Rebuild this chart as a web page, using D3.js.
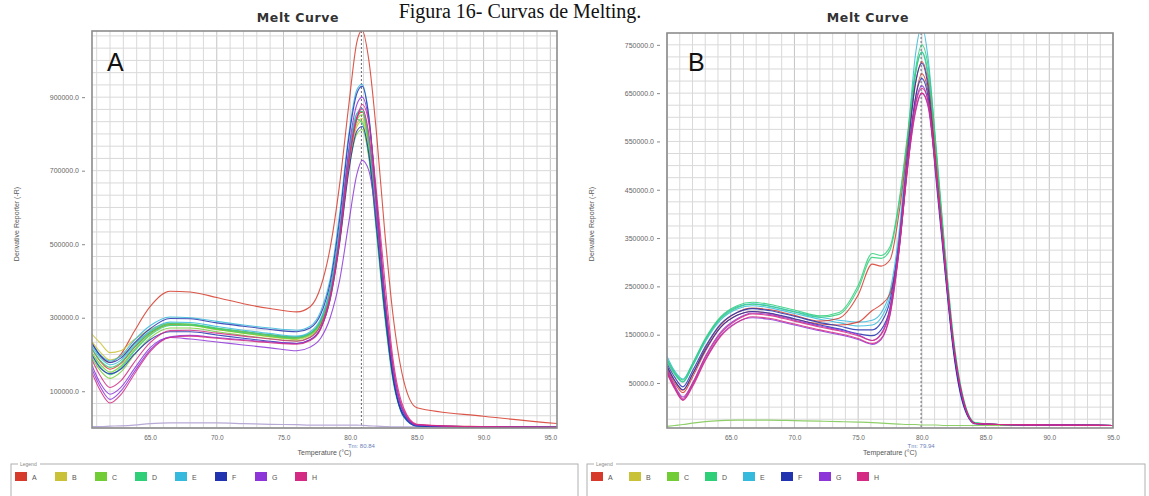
<!DOCTYPE html>
<html>
<head>
<meta charset="utf-8">
<script src="https://cdn.jsdelivr.net/npm/d3@7"></script>
<style>
	body { margin: 0; background: #fff; }
	svg { display: block; font-family: "Liberation Sans", Arial, sans-serif; }
</style>
</head>
<body>
<svg id="chart" width="1149" height="496"></svg>
<script>
// DATA (derivative reporter values are in thousands)

var wellNames = ['A','B','C','D','E','F','G','H'];
var xTickValues = [65, 70, 75, 80, 85, 90, 95];
var yTicksA = [100, 300, 500, 700, 900];
var yTicksB = [50, 150, 250, 350, 450, 550, 650, 750];
var tmA = 80.84;
var tmB = 79.94;

// panel A
var tempA = [60.65,61.3,62.0,62.8,63.8,65.0,66.5,68.0,70.0,72.0,74.0,76.0,77.0,77.8,78.5,79.2,79.9,80.5,80.9,81.4,82.0,82.6,83.2,84.0,85.0,90.0,95.5];
var ntcA = [4,4,5,6,8,12,14,14,14,12,10,9,8,8,8,8,8,8,7,6,5,4,3,3,3,3,3];
var a_A1 = [232,195,178,200,262,330,372,370,355,338,325,316,330,385,490,660,880,1050,1082,1000,790,530,310,130,55,32,12];
var a_A2 = [215,180,160,175,218,258,282,281,270,262,253,246,257,292,372,525,735,845,860,780,560,325,145,38,8,4,2];
var a_B1 = [255,230,205,210,240,268,285,282,271,262,252,245,255,288,365,515,720,828,842,765,545,318,140,36,7,3,2];
var a_B2 = [235,205,185,195,228,262,283,280,268,258,248,241,252,285,362,512,715,820,835,760,540,315,138,35,7,3,2];
var a_C1 = [205,172,152,168,212,255,280,279,268,258,249,243,254,288,368,520,728,838,852,770,552,322,143,37,7,3,2];
var a_C2 = [190,155,135,152,198,245,272,272,262,252,243,237,248,282,358,505,705,800,812,735,530,310,138,36,7,3,2];
var a_D1 = [200,165,145,163,208,252,279,280,270,260,251,245,256,290,372,530,740,840,830,740,520,300,130,34,7,3,2];
var a_D2 = [215,183,165,178,220,260,284,283,272,263,254,248,258,293,375,532,745,855,862,778,556,324,144,37,7,3,2];
var a_E1 = [228,198,182,196,238,278,302,300,290,280,272,266,277,318,405,580,800,920,935,850,610,350,150,30,5,3,2];
var a_E2 = [222,190,172,184,225,264,288,287,276,266,257,250,262,298,380,540,750,855,870,790,570,335,150,40,8,3,2];
var a_F1 = [230,196,178,190,230,270,298,297,286,277,268,262,272,310,395,565,790,910,930,845,600,340,145,32,5,3,2];
var a_F2 = [198,162,148,160,200,240,262,262,253,244,236,230,240,272,350,500,700,808,820,745,535,312,138,36,7,3,2];
var a_G1 = [170,120,92,110,160,218,246,242,234,226,218,210,220,245,300,400,560,690,728,700,560,350,170,45,8,3,2];
var a_G2 = [160,110,78,100,152,212,248,252,246,240,234,230,240,272,355,520,760,880,900,835,610,360,160,42,8,3,2];
var a_H1 = [185,140,110,128,178,232,265,266,258,250,242,236,246,280,360,515,730,845,868,800,590,360,170,48,9,3,2];
var a_H2 = [150,100,68,90,145,208,246,250,244,238,232,228,238,270,350,505,720,840,880,830,630,400,190,55,10,3,2];

// panel B
var tempB = [60.0,60.6,61.25,62.0,63.0,64.2,65.5,66.7,68.0,70.0,72.0,73.5,75.0,76.1,76.8,77.5,78.2,78.9,79.5,80.0,80.5,81.1,81.8,82.5,83.3,84.2,86.0,90.0,95.0];
var ntcB = [-40,-38,-36,-33,-30,-28,-27,-27,-27,-28,-29,-30,-31,-32,-33,-34,-35,-36,-36,-37,-37,-37,-38,-38,-38,-38,-38,-38,-38];
var b_E1 = [105,75,58,90,140,185,208,214,210,198,186,180,176,180,195,240,360,560,730,790,720,540,320,130,10,-33,-36,-37,-38];
var b_E2 = [98,70,52,85,135,180,203,210,206,194,182,175,168,170,185,230,345,530,690,735,680,510,300,120,5,-34,-36,-37,-38];
var b_D1 = [100,72,56,90,142,187,210,217,213,201,189,196,252,318,314,332,425,570,700,750,705,545,330,140,15,-32,-36,-37,-38];
var b_D2 = [95,68,52,85,138,183,206,213,209,197,186,192,245,310,308,325,418,560,690,735,690,530,320,135,12,-33,-36,-37,-38];
var b_A1 = [85,55,35,68,122,170,196,205,202,190,178,184,232,296,292,305,400,545,670,715,670,510,305,125,8,-34,-36,-37,-38];
var b_A2 = [80,50,30,62,115,165,190,198,194,182,172,170,176,200,212,235,330,500,640,690,650,495,300,120,5,-34,-36,-37,-38];
var b_F1 = [90,62,42,75,125,172,196,204,200,188,175,168,160,160,175,220,340,530,670,712,660,490,290,115,3,-34,-36,-37,-38];
var b_F2 = [84,55,36,68,118,165,190,198,195,183,170,162,152,148,160,205,325,510,640,680,640,475,285,110,0,-35,-36,-37,-38];
var b_G1 = [77,45,21,50,105,155,183,195,192,180,168,160,150,138,152,205,340,520,630,665,630,490,300,125,8,-34,-36,-37,-38];
var b_G2 = [72,40,15,45,98,148,176,185,182,170,158,150,140,130,140,190,320,500,610,650,620,485,300,125,8,-34,-36,-37,-38];
var b_H1 = [75,42,18,48,102,152,181,193,190,178,166,158,148,138,150,200,330,510,625,660,635,495,305,128,10,-34,-36,-37,-38];
var b_H2 = [70,38,14,42,96,146,175,187,184,172,160,152,142,132,142,192,322,502,615,650,625,490,302,126,9,-34,-36,-37,-38];

(function() {

	var svg = d3.select('#chart');

	var wellColor = d3.scaleOrdinal()
		.domain(wellNames)
		.range(['#d63a2a','#c9c238','#72cc36','#2fcf79','#35b9dc','#2233b0','#8e35d9','#d42a83']);

	var panels = [
		{
			id: 'A', left: 92, right: 557, top: 31, bottom: 428,
			xDomain: [60.65, 95.5], yDomain: [0, 1080], yTicks: yTicksA, yGrid: 200 / 6,
			tm: tmA, temps: tempA, ntc: ntcA, ntcColor: '#b7a9d6',
			series: [['A',a_A1],['A',a_A2],['B',a_B1],['B',a_B2],['C',a_C1],['C',a_C2],['D',a_D1],['D',a_D2],
				['E',a_E1],['E',a_E2],['F',a_F1],['F',a_F2],['G',a_G1],['G',a_G2],['H',a_H1],['H',a_H2]],
			titleX: 298, letterX: 107,
			legend: { x: 11, w: 567, step: 40 }
		},
		{
			id: 'B', left: 667, right: 1113, top: 33, bottom: 428,
			xDomain: [60.0, 95.0], yDomain: [-43.2, 774.5], yTicks: yTicksB, yGrid: 25,
			tm: tmB, temps: tempB, ntc: ntcB, ntcColor: '#8fcf6a',
			series: [['E',b_E1],['E',b_E2],['D',b_D1],['D',b_D2],['A',b_A1],['A',b_A2],['F',b_F1],['F',b_F2],
				['G',b_G1],['G',b_G2],['H',b_H1],['H',b_H2]],
			titleX: 868, letterX: 688,
			legend: { x: 587, w: 558, step: 38 }
		}
	];

	// page caption at the very top
	svg.append('text')
		.attr('x', 520).attr('y', 18)
		.attr('text-anchor', 'middle')
		.style('font-family', '"Liberation Serif", "Times New Roman", serif')
		.style('font-size', '20px')
		.attr('fill', '#111')
		.text('Figura 16- Curvas de Melting.');

	function drawPanel(p) {
		var x = d3.scaleLinear().domain(p.xDomain).range([p.left, p.right]);
		var y = d3.scaleLinear().domain(p.yDomain).range([p.bottom, p.top]);
		var g = svg.append('g').attr('class', 'panel panel--' + p.id);

		svg.append('clipPath').attr('id', 'clip' + p.id)
			.append('rect')
			.attr('x', p.left).attr('y', p.top)
			.attr('width', p.right - p.left).attr('height', p.bottom - p.top);

		// grid
		var xGrid = d3.range(Math.ceil(p.xDomain[0]), Math.floor(p.xDomain[1]) + 1);
		g.append('g').selectAll('line')
			.data(xGrid).enter().append('line')
			.attr('x1', function(d) { return x(d); })
			.attr('x2', function(d) { return x(d); })
			.attr('y1', p.top).attr('y2', p.bottom)
			.attr('stroke', function(d) { return d % 5 === 0 ? '#c4c4c4' : '#d9d9d9'; })
			.attr('stroke-width', 1);

		var yGrid = d3.range(Math.ceil(p.yDomain[0] / p.yGrid) * p.yGrid, p.yDomain[1], p.yGrid);
		g.append('g').selectAll('line')
			.data(yGrid).enter().append('line')
			.attr('x1', p.left).attr('x2', p.right)
			.attr('y1', function(d) { return y(d); })
			.attr('y2', function(d) { return y(d); })
			.attr('stroke', '#d9d9d9')
			.attr('stroke-width', 1);

		// Tm marker
		g.append('line')
			.attr('x1', x(p.tm)).attr('x2', x(p.tm))
			.attr('y1', p.top).attr('y2', p.bottom)
			.attr('stroke', '#667')
			.attr('stroke-dasharray', '2,2')
			.attr('stroke-width', 1);

		// curves
		var line = d3.line()
			.x(function(d, i) { return x(p.temps[i]); })
			.y(function(d) { return y(d); })
			.curve(d3.curveMonotoneX);

		var curves = g.append('g').attr('clip-path', 'url(#clip' + p.id + ')');
		curves.append('path')
			.attr('d', line(p.ntc))
			.attr('fill', 'none')
			.attr('stroke', p.ntcColor)
			.attr('stroke-width', 1.2);

		curves.selectAll('.curve')
			.data(p.series).enter().append('path')
			.attr('class', 'curve')
			.attr('d', function(d) { return line(d[1]); })
			.attr('fill', 'none')
			.attr('stroke', function(d) { return wellColor(d[0]); })
			.attr('stroke-width', 1.1)
			.attr('stroke-opacity', 0.85);

		// frame
		g.append('rect')
			.attr('x', p.left).attr('y', p.top)
			.attr('width', p.right - p.left).attr('height', p.bottom - p.top)
			.attr('fill', 'none')
			.attr('stroke', '#8c8c8c')
			.attr('stroke-width', 1.6);

		// axes
		var yAxis = g.append('g')
			.attr('transform', 'translate(' + (p.left - 7) + ',0)')
			.call(d3.axisLeft(y).tickValues(p.yTicks).tickSize(3).tickPadding(3)
				.tickFormat(function(d) { return (d * 1000).toFixed(1); }));
		yAxis.select('.domain').remove();
		yAxis.selectAll('line').attr('stroke', '#888');
		yAxis.selectAll('text').attr('fill', '#666').style('font-size', '7px');

		var xAxis = g.append('g')
			.attr('transform', 'translate(0,' + (p.bottom + 2) + ')')
			.call(d3.axisBottom(x).tickValues(xTickValues).tickSize(0).tickPadding(5)
				.tickFormat(d3.format('.1f')));
		xAxis.select('.domain').remove();
		xAxis.selectAll('text').attr('fill', '#666').style('font-size', '6.5px');

		g.append('text')
			.attr('x', x(p.tm)).attr('y', 448)
			.attr('text-anchor', 'middle')
			.attr('fill', '#6b7fb8')
			.style('font-size', '6px')
			.text('Tm: ' + p.tm.toFixed(2));

		g.append('text')
			.attr('x', (p.left + p.right) / 2).attr('y', 455)
			.attr('text-anchor', 'middle')
			.attr('fill', '#555')
			.style('font-size', '7px')
			.text('Temperature (°C)');

		g.append('text')
			.attr('transform', 'translate(' + (p.left - 73) + ',224) rotate(-90)')
			.attr('text-anchor', 'middle')
			.attr('fill', '#555')
			.style('font-size', '7px')
			.text('Derivative Reporter (-R)');

		// titles
		g.append('text')
			.attr('x', p.titleX).attr('y', 22)
			.attr('text-anchor', 'middle')
			.style('font-family', '"DejaVu Sans", sans-serif')
			.style('font-weight', 'bold')
			.style('font-size', '12.5px')
			.style('letter-spacing', '0.6px')
			.attr('fill', '#333')
			.text('Melt Curve');

		g.append('text')
			.attr('x', p.letterX).attr('y', 71)
			.style('font-size', '25px')
			.attr('fill', '#111')
			.text(p.id);

		// legend
		var lg = g.append('g').attr('class', 'legend');
		lg.append('rect')
			.attr('x', p.legend.x).attr('y', 464)
			.attr('width', p.legend.w).attr('height', 45)
			.attr('fill', 'none')
			.attr('stroke', '#b0b0b0')
			.attr('stroke-width', 1);
		lg.append('rect')
			.attr('x', p.legend.x + 7).attr('y', 461)
			.attr('width', 22).attr('height', 6)
			.attr('fill', '#fff');
		lg.append('text')
			.attr('x', p.legend.x + 9).attr('y', 466)
			.attr('fill', '#888')
			.style('font-size', '5px')
			.text('Legend');

		var items = lg.selectAll('.item')
			.data(wellNames).enter().append('g')
			.attr('class', 'item')
			.attr('transform', function(d, i) {
				return 'translate(' + (p.legend.x + 4 + i * p.legend.step) + ',472)';
			});
		items.append('rect')
			.attr('width', 12).attr('height', 9)
			.attr('fill', function(d) { return wellColor(d); });
		items.append('text')
			.attr('x', 17).attr('y', 7.5)
			.attr('fill', '#555')
			.style('font-size', '7px')
			.text(function(d) { return d; });
	}

	panels.forEach(drawPanel);

})()
</script>
</body>
</html>
